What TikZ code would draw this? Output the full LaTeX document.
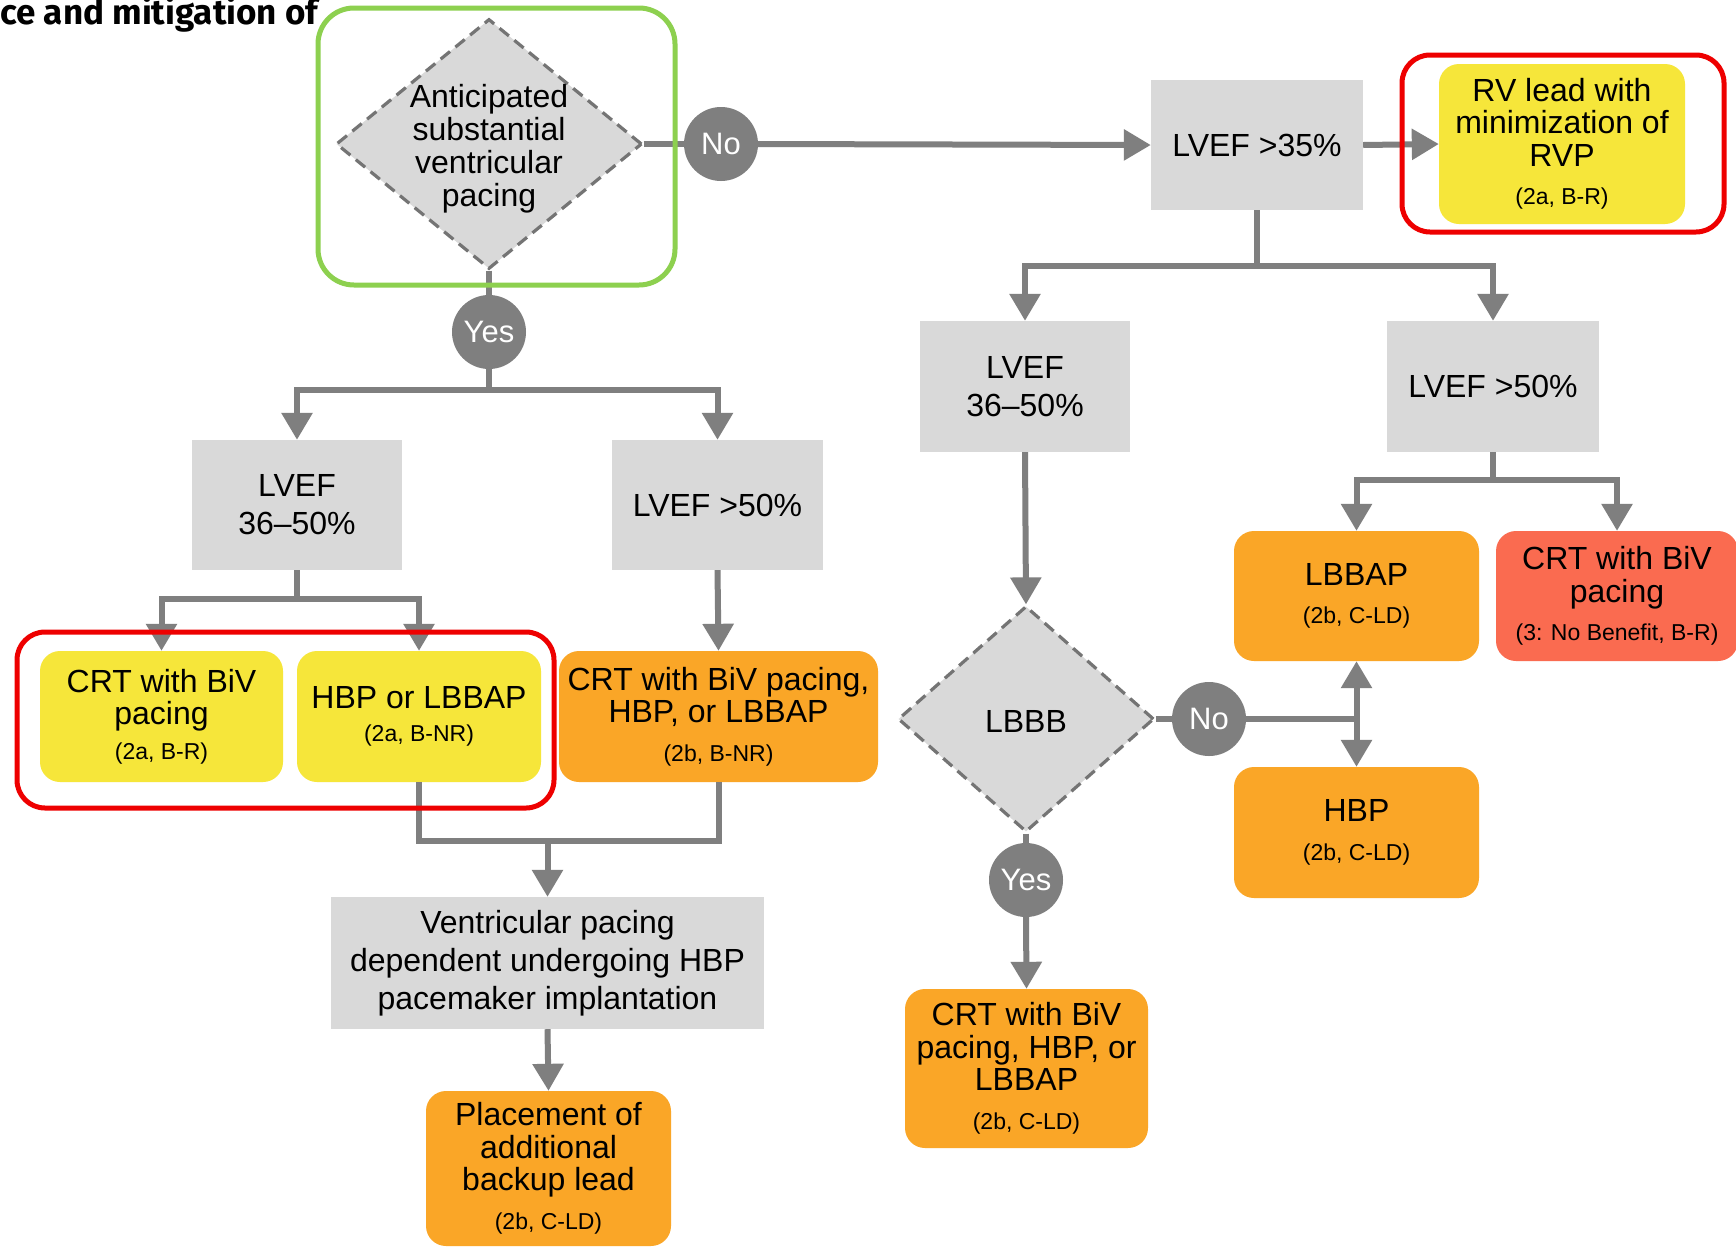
\documentclass[tikz,border=0pt]{standalone}
\usepackage{fontspec}
\setmainfont{Liberation Sans}
\newfontfamily\titlefont{Fira Sans}
\usetikzlibrary{shapes.geometric,arrows.meta}
\definecolor{boxgray}{HTML}{D9D9D9}
\definecolor{linegray}{HTML}{7F7F7F}
\definecolor{dashgray}{HTML}{747474}
\definecolor{ylw}{HTML}{F6E63A}
\definecolor{org}{HTML}{FAA627}
\definecolor{salmon}{HTML}{FA6B50}
\definecolor{hired}{HTML}{EE0000}
\definecolor{higreen}{HTML}{8DD04F}
\begin{document}
\begin{tikzpicture}[x=1pt,y=-1pt,
  graybox/.style={fill=boxgray, inner sep=0pt, align=center, font=\fontsize{32}{38}\selectfont},
  colbox/.style={rounded corners=20pt, inner sep=0pt, align=center, font=\fontsize{32}{32.5}\selectfont},
  ybox/.style={colbox, fill=ylw},
  obox/.style={colbox, fill=org},
  sbox/.style={colbox, fill=salmon},
  dia/.style={shape=diamond, fill=boxgray, draw=dashgray, line width=3.2pt, dash pattern=on 12pt off 7pt, inner sep=0pt},
  diatext/.style={inner sep=0pt, align=center, font=\fontsize{32}{33}\selectfont},
  answer/.style={circle, fill=linegray, text=white, inner sep=0pt, minimum size=74pt, font=\fontsize{31}{31}\selectfont},
  conn/.style={draw=linegray, line width=6pt},
  arr/.style={conn, -{Triangle[width=30pt,length=27pt]}},
  hlg/.style={draw=higreen, line width=5pt, rounded corners=36pt, inner sep=0pt},
  hlr/.style={draw=hired, line width=5pt, rounded corners=28pt, inner sep=0pt},
]
\newcommand{\sub}[1]{{\fontsize{23}{26}\selectfont #1}}
\useasboundingbox (0,0) rectangle (1736,1248);
\clip (0,0) rectangle (1736,1248);
\fill[white] (0,0) rectangle (1736,1248);

\node[anchor=base west, inner sep=0pt, font=\titlefont\bfseries\fontsize{35}{35}\selectfont] (title) at (0,24) {ce and mitigation of};

% top row
\node[dia, minimum width=306pt, minimum height=250pt] (d1) at (489,144) {};
\node[diatext] (d1t) at (489,149) {Anticipated\\substantial\\ventricular\\pacing};
\node[answer] (no1) at (721,144) {No};
\node[graybox, minimum width=212pt, minimum height=130pt] (lv35) at (1257,145) {LVEF >35\%};
\node[ybox, minimum width=246pt, minimum height=160pt] (rv) at (1562,144) {RV lead with\\minimization of\\RVP\\[6pt]\sub{(2a, B-R)}};

% left branch
\node[answer] (yes1) at (489,332) {Yes};
\node[graybox, minimum width=210pt, minimum height=130pt] (lvA) at (297,505) {LVEF\\36--50\%};
\node[graybox, minimum width=211pt, minimum height=130pt] (lvB) at (717.5,505) {LVEF >50\%};
\node[ybox, minimum width=243pt, minimum height=131pt] (crtY) at (161.5,716.5) {CRT with BiV\\pacing\\[2pt]\sub{(2a, B-R)}};
\node[ybox, minimum width=244pt, minimum height=131pt] (hbpY) at (419,716.5) {HBP or LBBAP\\[1pt]\sub{(2a, B-NR)}};
\node[obox, minimum width=319pt, minimum height=131pt] (crtO) at (718.5,716.5) {CRT with BiV pacing,\\HBP, or LBBAP\\[6pt]\sub{(2b, B-NR)}};
\node[graybox, minimum width=433pt, minimum height=132pt] (vent) at (547.5,963) {Ventricular pacing\\dependent undergoing HBP\\pacemaker implantation};
\node[obox, minimum width=245pt, minimum height=155pt] (place) at (548.5,1168.5) {Placement of\\additional\\backup lead\\[6pt]\sub{(2b, C-LD)}};

% right branch
\node[graybox, minimum width=210pt, minimum height=131pt] (lvC) at (1025,386.5) {LVEF\\36--50\%};
\node[graybox, minimum width=212pt, minimum height=131pt] (lvD) at (1493,386.5) {LVEF >50\%};
\node[obox, minimum width=245pt, minimum height=130pt] (lbbap) at (1356.5,596) {LBBAP\\[6pt]\sub{(2b, C-LD)}};
\node[sbox, minimum width=242pt, minimum height=130pt] (crtR) at (1617,596) {CRT with BiV\\pacing\\[6pt]\sub{(3: No Benefit, B-R)}};
\node[dia, minimum width=256pt, minimum height=226pt] (lbbb) at (1026,719) {};
\node[diatext] (lbbbt) at (1026,721) {LBBB};
\node[answer] (no2) at (1209,719) {No};
\node[obox, minimum width=245pt, minimum height=131pt] (hbp) at (1356.5,832.5) {HBP\\[6pt]\sub{(2b, C-LD)}};
\node[answer] (yes2) at (1026,880) {Yes};
\node[obox, minimum width=243pt, minimum height=159pt] (crt3) at (1026.5,1068.5) {CRT with BiV\\pacing, HBP, or\\LBBAP\\[6pt]\sub{(2b, C-LD)}};

% connectors
\draw[conn] (d1.east) -- (no1.west);
\draw[arr] (no1.east) -- (lv35.west);
\draw[arr] (lv35.east) -- (rv.west);
\draw[conn] (d1.south) -- (yes1.north);
\coordinate (jy1) at (489,390);
\draw[conn] (yes1.south) -- (jy1);
\draw[arr] (jy1) -| (lvA.north);
\draw[arr] (jy1) -| (lvB.north);
\coordinate (jlA) at (297,599);
\draw[conn] (lvA.south) -- (jlA);
\draw[arr] (jlA) -| (crtY.north);
\draw[arr] (jlA) -| (hbpY.north);
\draw[arr] (lvB.south) -- (crtO.north);
\coordinate (jm) at (547.5,841);
\draw[conn] (hbpY.south) |- (jm);
\draw[conn] (crtO.south) |- (jm);
\draw[arr] (jm) -- (vent.north);
\draw[arr] (vent.south) -- (place.north);

\coordinate (j35) at (1257,266);
\draw[conn] (lv35.south) -- (j35);
\draw[arr] (j35) -| (lvC.north);
\draw[arr] (j35) -| (lvD.north);
\coordinate (jD) at (1493,480);
\draw[conn] (lvD.south) -- (jD);
\draw[arr] (jD) -| (lbbap.north);
\draw[arr] (jD) -| (crtR.north);
\draw[arr] (lvC.south) -- (lbbb.north);
\draw[conn] (lbbb.east) -- (no2.west);
\coordinate (jn2) at (lbbap.south |- no2.east);
\draw[conn] (no2.east) -- (jn2);
\draw[arr] (jn2) -- (lbbap.south);
\draw[arr] (jn2) -- (hbp.north);
\draw[conn] (lbbb.south) -- (yes2.north);
\draw[arr] (yes2.south) -- (crt3.north);

% highlight frames
\node[hlg, minimum width=357pt, minimum height=277pt] (hl1) at (496.5,146.5) {};
\node[hlr, minimum width=322pt, minimum height=177pt] (hl2) at (1563,143.5) {};
\node[hlr, minimum width=537pt, minimum height=176pt] (hl3) at (285.5,720) {};
\end{tikzpicture}
\end{document}
